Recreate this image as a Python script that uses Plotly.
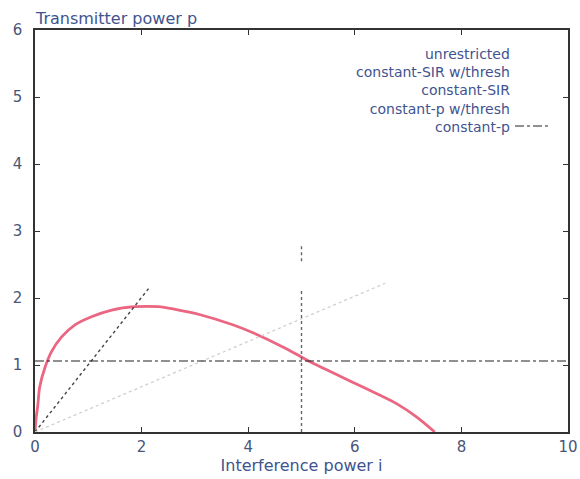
import plotly.graph_objects as go

# ---- data ----
unres_i = [0.0, 0.02, 0.05, 0.09, 0.19, 0.31, 0.5, 0.75, 1.06, 1.44, 1.88, 2.31, 2.63, 3.1, 3.71, 4.09, 4.65, 5.16, 5.6, 6.15, 6.79, 7.15, 7.5]
unres_p = [0.0, 0.2, 0.38, 0.68, 0.97, 1.2, 1.42, 1.6, 1.72, 1.82, 1.87, 1.87, 1.83, 1.75, 1.6, 1.48, 1.27, 1.05, 0.88, 0.67, 0.42, 0.23, 0.0]

sir_thresh_i = [0.0, 2.13]
sir_thresh_p = [0.0, 2.14]

sir_i = [0.0, 6.57]
sir_p = [0.0, 2.22]

pth_i = [5.0, 5.0, None, 5.0, 5.0]
pth_p = [0.0, 2.15, None, 2.55, 2.8]

const_p_i = [0.0, 10.0]
const_p_p = [1.06, 1.06]

legend_labels = ["unrestricted", "constant-SIR w/thresh", "constant-SIR", "constant-p w/thresh", "constant-p"]

x_ticks = [0, 2, 4, 6, 8, 10]
y_ticks = [0, 1, 2, 3, 4, 5, 6]

TEXT_BLUE = "#3f5390"
TICK_COL = "#4a5578"
FONT = "DejaVu Sans, sans-serif"

plot_l, plot_r, plot_t, plot_b = 35, 568, 30, 432


def px2paper_x(px):
    return (px - plot_l) / (plot_r - plot_l)


def px2paper_y(py):
    return (plot_b - py) / (plot_b - plot_t)


fig = go.Figure()
fig.add_trace(go.Scatter(x=unres_i, y=unres_p, mode="lines",
                         line=dict(color="#ea6681", width=2.8, shape="spline", smoothing=0.9),
                         name=legend_labels[0]))
fig.add_trace(go.Scatter(x=sir_thresh_i, y=sir_thresh_p, mode="lines",
                         line=dict(color="#444444", width=1.4, dash="dot"), name=legend_labels[1]))
fig.add_trace(go.Scatter(x=sir_i, y=sir_p, mode="lines",
                         line=dict(color="#cfcfcf", width=1.3, dash="dot"), name=legend_labels[2]))
fig.add_trace(go.Scatter(x=pth_i, y=pth_p, mode="lines",
                         line=dict(color="#666666", width=1.4, dash="dot"), name=legend_labels[3]))
fig.add_trace(go.Scatter(x=const_p_i, y=const_p_p, mode="lines",
                         line=dict(color="#222222", width=1.1, dash="dashdot"), name=legend_labels[4]))

# legend drawn as one right-aligned block of text (as in the reference)
annotations = [dict(x=px2paper_x(511), y=px2paper_y(45), xref="paper", yref="paper",
                    text="<br>".join(legend_labels), showarrow=False, xanchor="right", yanchor="top",
                    align="right", borderpad=0,
                    font=dict(family=FONT, size=14, color=TEXT_BLUE))]

annotations.append(dict(x=px2paper_x(33), y=1.0, xref="paper", yref="paper", text="Transmitter power p",
                        showarrow=False, xanchor="left", yanchor="bottom", yshift=0,
                        font=dict(family=FONT, size=16, color=TEXT_BLUE)))

fig.update_layout(
    width=580, height=479,
    margin=dict(l=plot_l, r=580 - plot_r, t=plot_t, b=479 - plot_b),
    paper_bgcolor="white", plot_bgcolor="white",
    showlegend=False,
    annotations=annotations,
    font=dict(family=FONT, size=14, color=TICK_COL),
    shapes=[dict(type="line", xref="paper", yref="paper",
                 x0=px2paper_x(515), x1=px2paper_x(548),
                 y0=px2paper_y(126), y1=px2paper_y(126),
                 line=dict(color="#222222", width=1.1, dash="dashdot"))],
)
fig.update_xaxes(range=[0, 10], tickvals=x_ticks, ticks="inside", ticklen=5, tickcolor="#333",
                 showline=True, linecolor="#333", linewidth=1.5, mirror="ticks", showgrid=False, zeroline=False,
                 automargin=False,
                 title=dict(text="Interference power i", standoff=0, font=dict(family=FONT, size=16, color=TEXT_BLUE)),
                 tickfont=dict(family=FONT, size=15, color=TICK_COL))
fig.update_yaxes(range=[0, 6], tickvals=y_ticks, ticks="inside", ticklen=5, tickcolor="#333",
                 showline=True, linecolor="#333", linewidth=1.5, mirror="ticks", showgrid=False, zeroline=False,
                 automargin=False, ticklabelstandoff=8,
                 tickfont=dict(family=FONT, size=15, color=TICK_COL))

fig.write_html("out.html")
